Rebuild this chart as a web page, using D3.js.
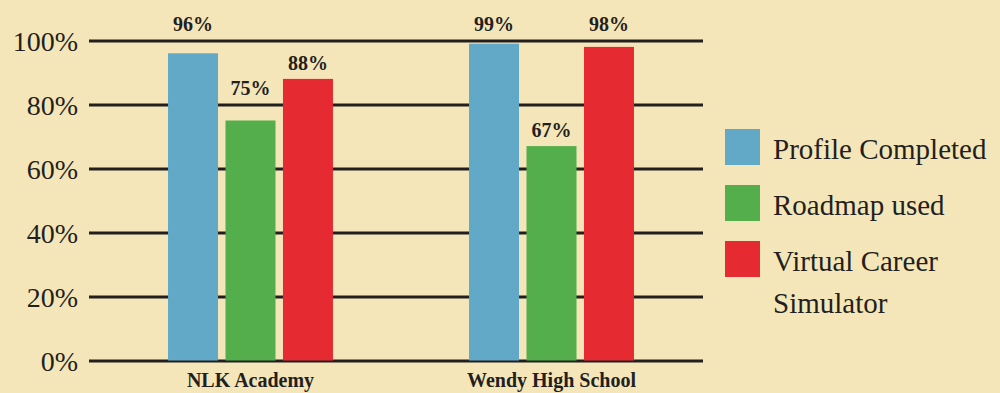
<!DOCTYPE html>
<html>
<head>
<meta charset="utf-8">
<script src="https://cdn.jsdelivr.net/npm/d3@7"></script>
<style>
  html, body { margin: 0; padding: 0; background: #f5e6b9; }
  svg { display: block; }
</style>
</head>
<body>
<svg id="chart" width="1000" height="393"></svg>
<script>
// Schools and the share of students reaching each milestone (%)
const categories = ["NLK Academy", "Wendy High School"];
const seriesNames = ["Profile Completed", "Roadmap used", "Virtual Career Simulator"];
const profileCompleted = [96, 99];
const roadmapUsed = [75, 67];
const virtualCareerSimulator = [88, 98];
const yTicks = [0, 20, 40, 60, 80, 100];
const legendLines = [["Profile Completed"], ["Roadmap used"], ["Virtual Career", "Simulator"]];

const seriesValues = [profileCompleted, roadmapUsed, virtualCareerSimulator];
const colors = ["#62a9c8", "#54ae4b", "#e52a32"];
const ink = "#231f20";
const serif = "Liberation Serif";

const svg = d3.select("#chart");

const gridLeft = 89, gridRight = 703;
const y = d3.scaleLinear().domain([0, 100]).range([360.5, 40.5]);

const x0 = d3.scaleBand()
  .domain(categories)
  .range([100, 702])
  .paddingInner(0.452)
  .paddingOuter(0.226);

const x1 = d3.scaleBand()
  .domain(seriesNames)
  .range([0, x0.bandwidth()])
  .paddingInner(0.13)
  .paddingOuter(0);

// Horizontal rules with percentage labels
const yAxis = d3.axisLeft(y)
  .tickValues(yTicks)
  .tickSize(-(gridRight - gridLeft))
  .tickPadding(11)
  .tickFormat(d => d + "%");

const gy = svg.append("g")
  .attr("transform", `translate(${gridLeft},0)`)
  .call(yAxis);
gy.select(".domain").remove();
gy.selectAll(".tick line").attr("stroke", ink).attr("stroke-width", 3);
gy.selectAll(".tick text")
  .attr("font-family", serif)
  .attr("font-size", 28)
  .attr("fill", ink)
  .attr("dy", "0.34em");

// Grouped bars
const rows = categories.map((c, ci) => ({
  category: c,
  values: seriesNames.map((s, si) => ({ series: s, si, value: seriesValues[si][ci] }))
}));

const groups = svg.append("g").selectAll("g")
  .data(rows)
  .join("g")
  .attr("transform", d => `translate(${x0(d.category)},0)`);

groups.selectAll("rect")
  .data(d => d.values)
  .join("rect")
  .attr("x", d => x1(d.series))
  .attr("width", x1.bandwidth())
  .attr("y", d => y(d.value))
  .attr("height", d => y(0) - y(d.value))
  .attr("fill", d => colors[d.si]);

// Value labels: sit just above the bar, lifted above a rule if they would touch it
const gridYs = yTicks.map(t => y(t));
function labelBaseline(v) {
  let base = y(v) - 9;
  const top = base - 14;
  for (const g of gridYs) {
    if (g >= top - 2 && g <= base + 7) { base = g - 10; break; }
  }
  return base;
}

groups.selectAll("text.value")
  .data(d => d.values)
  .join("text")
  .attr("class", "value")
  .attr("x", d => x1(d.series) + x1.bandwidth() / 2)
  .attr("y", d => labelBaseline(d.value))
  .attr("text-anchor", "middle")
  .attr("font-family", serif)
  .attr("font-size", 20)
  .attr("font-weight", "bold")
  .attr("fill", ink)
  .text(d => d.value + "%");

// Category labels under the baseline
const xAxis = d3.axisBottom(x0).tickSize(0).tickPadding(0);
const gx = svg.append("g")
  .attr("transform", `translate(0,${y(0)})`)
  .call(xAxis);
gx.select(".domain").remove();
gx.selectAll(".tick text")
  .attr("y", 26.5)
  .attr("dy", 0)
  .attr("font-family", serif)
  .attr("font-size", 20)
  .attr("font-weight", "bold")
  .attr("fill", ink);

// Legend
const legend = svg.append("g").attr("transform", "translate(725,129)");
const items = legend.selectAll("g")
  .data(seriesNames)
  .join("g")
  .attr("transform", (d, i) => `translate(0,${i * 56})`);

items.append("rect")
  .attr("width", 35)
  .attr("height", 36)
  .attr("fill", (d, i) => colors[i]);

items.append("text")
  .attr("x", 48)
  .attr("y", 29.5)
  .attr("font-family", serif)
  .attr("font-size", 29)
  .attr("fill", ink)
  .selectAll("tspan")
  .data((d, i) => legendLines[i])
  .join("tspan")
  .attr("x", 48)
  .attr("dy", (d, j) => j === 0 ? 0 : 42)
  .text(d => d);
</script>
</body>
</html>
